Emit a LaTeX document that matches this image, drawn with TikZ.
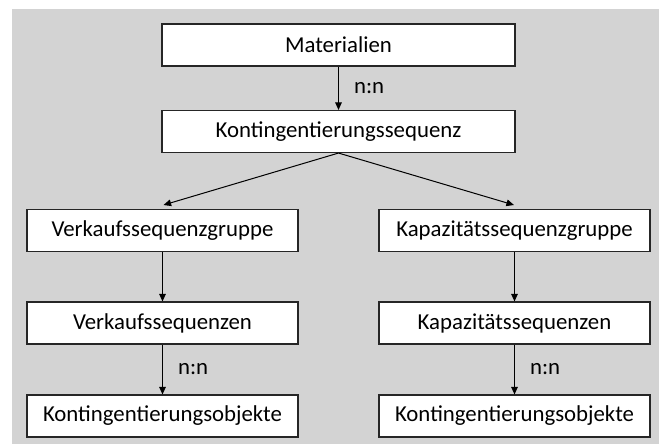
\documentclass[tikz,border=0pt]{standalone}
\usepackage{fontspec}
\setmainfont{Carlito}
\usepackage{xcolor}
\usetikzlibrary{arrows.meta}
\definecolor{hgrau}{RGB}{211,211,211}

\begin{document}
\begin{tikzpicture}[x=0.5pt, y=-0.5pt,
	kasten/.style={draw=black!85, fill=white, line width=0.55pt, inner sep=0pt,
		minimum height=21pt, font=\fontsize{11.4}{13}\selectfont},
	breit/.style={kasten, minimum width=176.5pt},
	schmal/.style={kasten, minimum width=135.5pt},
	pfeil/.style={draw=black, line width=0.5pt, -{Triangle[length=3.8pt, width=3.3pt]}},
	anzahl/.style={right, xshift=4.2pt, font=\fontsize{11.4}{13}\selectfont}]
	
	\useasboundingbox (0,0) rectangle (659,444);
	\fill [hgrau] (12,9) rectangle (659,444);
	
	% oben
	\node [breit] (mat) at (338.5, 45) {Materialien};
	\node [breit] (kseq) at (338.5, 131.5) {Kontingentierungssequenz};
	
	% links
	\node [schmal] (vgruppe) at (162.5, 230.5) {Verkaufssequenzgruppe};
	\node [schmal] (vseq) at (162.5, 323) {Verkaufssequenzen};
	\node [schmal] (vobj) at (162.5, 416) {Kontingentierungsobjekte};
	
	% rechts
	\node [schmal] (kgruppe) at (514.5, 230.5) {Kapazitätssequenzgruppe};
	\node [schmal] (kaseq) at (514.5, 323) {Kapazitätssequenzen};
	\node [schmal] (kobj) at (514.5, 416) {Kontingentierungsobjekte};
	
	\coordinate (links) at (163.5, 205);
	\coordinate (rechts) at (514, 205);
	
	\draw [pfeil] (mat) -- (kseq) node [anzahl, midway] {n:n};
	\draw [pfeil] (kseq.south) -- (links);
	\draw [pfeil] (kseq.south) -- (rechts);
	
	\draw [pfeil] (vgruppe) -- (vseq);
	\draw [pfeil] (vseq) -- (vobj) node [anzahl, midway] {n:n};
	
	\draw [pfeil] (kgruppe) -- (kaseq);
	\draw [pfeil] (kaseq) -- (kobj) node [anzahl, midway] {n:n};
	
\end{tikzpicture}
\end{document}
